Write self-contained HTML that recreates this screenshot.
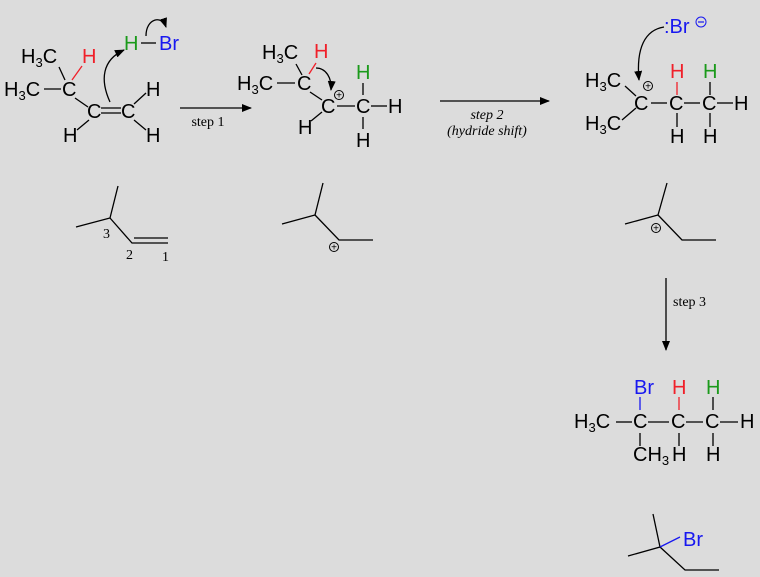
<!DOCTYPE html>
<html><head><meta charset="utf-8"><style>
html,body{margin:0;padding:0;background:#dcdcdc}
svg{display:block}
text{font-family:"Liberation Sans",Arial,sans-serif;font-size:20px;fill:#000}
.s{font-family:"Liberation Serif",serif;font-size:14px}
.sub{font-size:13px}
.r{fill:#f0202a}.g{fill:#1b9a1b}.b{fill:#1818f0}
line,path,polyline{stroke:#000;stroke-width:1.3;fill:none}
</style></head><body>
<svg width="760" height="577" viewBox="0 0 760 577" xmlns="http://www.w3.org/2000/svg">
<defs><marker id="a" markerWidth="10" markerHeight="8" refX="9" refY="4" orient="auto" markerUnits="userSpaceOnUse"><path d="M0,0 L10,4 L0,8 Z" style="fill:#000;stroke:none"/></marker></defs>

<!-- Molecule 1 -->
<text x="21" y="63">H<tspan class="sub" dy="4">3</tspan><tspan dy="-4">C</tspan></text>
<text x="82" y="63" class="r">H</text>
<text x="4" y="96">H<tspan class="sub" dy="4">3</tspan><tspan dy="-4">C</tspan></text>
<text x="62" y="96">C</text>
<text x="87" y="118">C</text>
<text x="121" y="118">C</text>
<text x="146" y="96">H</text>
<text x="146" y="142">H</text>
<text x="63" y="142">H</text>
<text x="124" y="50" class="g">H</text>
<text x="159" y="50" class="b">Br</text>
<line x1="44" y1="89" x2="61" y2="89"/>
<line x1="65" y1="80" x2="59" y2="67"/>
<line x1="72" y1="80" x2="82" y2="66" style="stroke:#f0202a"/>
<line x1="75" y1="98" x2="88" y2="107"/>
<line x1="101" y1="108" x2="121" y2="108"/>
<line x1="101" y1="113" x2="121" y2="113"/>
<line x1="134" y1="104" x2="146" y2="93"/>
<line x1="134" y1="120" x2="146" y2="130"/>
<line x1="89" y1="120" x2="77" y2="130"/>
<line x1="141" y1="43" x2="156" y2="43"/>
<path d="M110,102 C100,80 102,60 124,50" marker-end="url(#a)"/>
<path d="M146,36 C146,18 162,15 166,27" marker-end="url(#a)"/>

<!-- step 1 -->
<line x1="180" y1="108" x2="251" y2="108" marker-end="url(#a)"/>
<text x="208" y="126" class="s" text-anchor="middle">step 1</text>

<!-- Molecule 2 -->
<text x="262" y="59">H<tspan class="sub" dy="4">3</tspan><tspan dy="-4">C</tspan></text>
<text x="314" y="58" class="r">H</text>
<text x="237" y="90">H<tspan class="sub" dy="4">3</tspan><tspan dy="-4">C</tspan></text>
<text x="297" y="90">C</text>
<text x="321" y="113">C</text>
<text x="356" y="113">C</text>
<text x="356" y="79" class="g">H</text>
<text x="388" y="113">H</text>
<text x="298" y="134">H</text>
<text x="356" y="147">H</text>
<circle cx="339" cy="95" r="4.5" style="fill:none;stroke:#000;stroke-width:1"/>
<text x="339" y="98.5" text-anchor="middle" style="font-size:10px">+</text>
<line x1="277" y1="83" x2="295" y2="83"/>
<line x1="302" y1="75" x2="296" y2="64"/>
<line x1="309" y1="74" x2="316" y2="63" style="stroke:#f0202a"/>
<line x1="310" y1="92" x2="322" y2="100"/>
<line x1="337" y1="106" x2="355" y2="106"/>
<line x1="371" y1="106" x2="387" y2="106"/>
<line x1="363" y1="83" x2="363" y2="95"/>
<line x1="363" y1="117" x2="363" y2="129"/>
<line x1="322" y1="112" x2="311" y2="121"/>
<path d="M316,68 C326,68 332,78 331,90" marker-end="url(#a)"/>

<!-- step 2 -->
<line x1="440" y1="101" x2="549" y2="101" marker-end="url(#a)"/>
<text x="487" y="119" class="s" text-anchor="middle" font-style="italic">step 2</text>
<text x="487" y="135" class="s" text-anchor="middle" font-style="italic">(hydride shift)</text>

<!-- Molecule 3 -->
<text x="664" y="33" class="b">:Br</text>
<circle cx="701" cy="22" r="5" style="fill:none;stroke:#1818f0;stroke-width:1"/>
<line x1="698" y1="22" x2="704" y2="22" style="stroke:#1818f0;stroke-width:1.2"/>
<path d="M664,27 C645,30 636,48 639,80" marker-end="url(#a)"/>
<text x="585" y="87">H<tspan class="sub" dy="4">3</tspan><tspan dy="-4">C</tspan></text>
<text x="585" y="130">H<tspan class="sub" dy="4">3</tspan><tspan dy="-4">C</tspan></text>
<text x="634" y="110">C</text>
<circle cx="648" cy="86" r="4.5" style="fill:none;stroke:#000;stroke-width:1"/>
<text x="648" y="89.5" text-anchor="middle" style="font-size:10px">+</text>
<text x="669" y="110">C</text>
<text x="702" y="110">C</text>
<text x="734" y="110">H</text>
<text x="670" y="78" class="r">H</text>
<text x="703" y="78" class="g">H</text>
<text x="670" y="143">H</text>
<text x="703" y="143">H</text>
<line x1="625" y1="86" x2="636" y2="96"/>
<line x1="636" y1="108" x2="622" y2="120"/>
<line x1="651" y1="103" x2="667" y2="103"/>
<line x1="684" y1="103" x2="700" y2="103"/>
<line x1="717" y1="103" x2="733" y2="103"/>
<line x1="677" y1="82" x2="677" y2="95" style="stroke:#f0202a"/>
<line x1="710" y1="82" x2="710" y2="95"/>
<line x1="677" y1="113" x2="677" y2="127"/>
<line x1="710" y1="113" x2="710" y2="127"/>

<!-- skeletal 1 -->
<polyline points="76,227 110,218 118,186"/>
<polyline points="110,218 132,243 168,243"/>
<line x1="134" y1="238" x2="168" y2="238"/>
<text x="103" y="238" class="s">3</text>
<text x="126" y="259" class="s">2</text>
<text x="162" y="261" class="s">1</text>

<!-- skeletal 2 -->
<polyline points="282,224 315,215 323,183"/>
<polyline points="315,215 339,240 373,240"/>
<circle cx="334" cy="247" r="4.5" style="fill:none;stroke:#000;stroke-width:1"/>
<text x="334" y="250.5" text-anchor="middle" style="font-size:10px">+</text>

<!-- skeletal 3 -->
<polyline points="625,224 658,215 667,183"/>
<polyline points="658,215 682,240 716,240"/>
<circle cx="656" cy="228" r="4.5" style="fill:none;stroke:#000;stroke-width:1"/>
<text x="656" y="231.5" text-anchor="middle" style="font-size:10px">+</text>

<!-- step 3 -->
<line x1="666" y1="278" x2="666" y2="350" marker-end="url(#a)"/>
<text x="673" y="306" class="s">step 3</text>

<!-- Molecule 4 -->
<text x="634" y="394" class="b">Br</text>
<text x="672" y="394" class="r">H</text>
<text x="706" y="394" class="g">H</text>
<text x="574" y="428">H<tspan class="sub" dy="4">3</tspan><tspan dy="-4">C</tspan></text>
<text x="633" y="428">C</text>
<text x="671" y="428">C</text>
<text x="705" y="428">C</text>
<text x="740" y="428">H</text>
<text x="633" y="461">CH<tspan class="sub" dy="4">3</tspan></text>
<text x="672" y="461">H</text>
<text x="706" y="461">H</text>
<line x1="616" y1="422" x2="632" y2="422"/>
<line x1="648" y1="422" x2="669" y2="422"/>
<line x1="686" y1="422" x2="703" y2="422"/>
<line x1="720" y1="422" x2="738" y2="422"/>
<line x1="640" y1="397" x2="640" y2="410" style="stroke:#1818f0"/>
<line x1="640" y1="433" x2="640" y2="446"/>
<line x1="679" y1="397" x2="679" y2="410" style="stroke:#f0202a"/>
<line x1="713" y1="397" x2="713" y2="410"/>
<line x1="679" y1="433" x2="679" y2="446"/>
<line x1="713" y1="433" x2="713" y2="446"/>

<!-- skeletal 4 -->
<polyline points="628,556 660,547 653,514"/>
<polyline points="660,547 685,570 719,570"/>
<line x1="660" y1="547" x2="680" y2="537" style="stroke:#1818f0"/>
<text x="683" y="546" class="b">Br</text>
</svg>
</body></html>
